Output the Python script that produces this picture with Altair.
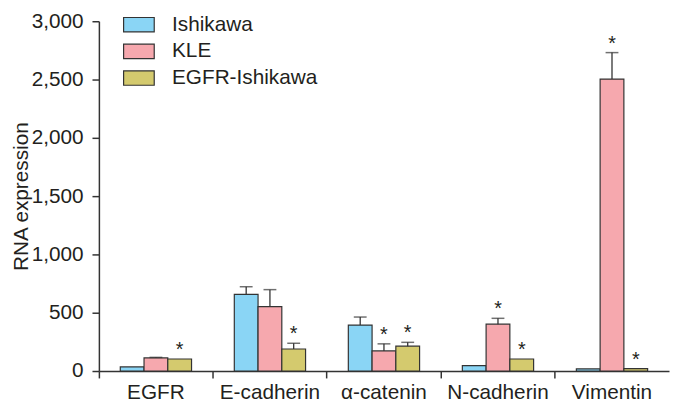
import altair as alt
import pandas as pd

categories = ["EGFR", "E-cadherin", "α-catenin", "N-cadherin", "Vimentin"]
series = ["Ishikawa", "KLE", "EGFR-Ishikawa"]
colors = ["#8AD5F5", "#F6A8AE", "#D4CA6E"]

ishikawa = [35, 657, 394, 46, 18]
ishikawa_sd = [0, 66, 69, 0, 0]
kle = [112, 553, 172, 402, 2504]
kle_sd = [5, 145, 61, 50, 227]
egfr_ish = [103, 189, 213, 103, 20]
egfr_ish_sd = [0, 49, 33, 0, 0]
stars = {
    "Ishikawa": [False, False, False, False, False],
    "KLE": [False, False, True, True, True],
    "EGFR-Ishikawa": [True, True, True, True, True],
}
y_ticks = [0, 500, 1000, 1500, 2000, 2500, 3000]

rows = []
for s, vals, sds in [("Ishikawa", ishikawa, ishikawa_sd), ("KLE", kle, kle_sd),
                     ("EGFR-Ishikawa", egfr_ish, egfr_ish_sd)]:
    for i, c in enumerate(categories):
        rows.append({"gene": c, "line": s, "value": vals[i], "sd": sds[i],
                     "top": vals[i] + sds[i], "star": stars[s][i]})
df = pd.DataFrame(rows)

FONT = "Liberation Sans"
DARK = "#333333"
TXT = "#231F20"
FS = 21

x = alt.X("gene:N", sort=categories, title=None,
          scale=alt.Scale(paddingInner=0, paddingOuter=0),
          axis=alt.Axis(labelAngle=0, bandPosition=0, labelPadding=4))
xo = alt.XOffset("line:N", sort=series, scale=alt.Scale(paddingOuter=0.9, paddingInner=0))

LABEL_EXPR = ("datum.value >= 1000 ? floor(datum.value / 1000) + ',' + "
              "slice('00' + (datum.value % 1000), -3) : '' + datum.value")


def yenc(field):
    return alt.Y(field, type="quantitative", title="RNA expression",
                 scale=alt.Scale(domain=[0, 3000], nice=False),
                 axis=alt.Axis(values=y_ticks, labelExpr=LABEL_EXPR, labelPadding=9,
                               titlePadding=0, grid=False))


base = alt.Chart(df)

bars = base.mark_bar(stroke=DARK, strokeWidth=1.2).encode(
    x=x, xOffset=xo, y=yenc("value"),
    color=alt.Color("line:N", sort=series, title=None,
                    scale=alt.Scale(domain=series, range=colors),
                    legend=alt.Legend(orient="none", legendX=24, legendY=-13, padding=0,
                                      symbolType="M-1,-0.47H1V0.47H-1Z", symbolSize=961,
                                      symbolStrokeColor=DARK, symbolStrokeWidth=1.2,
                                      symbolOpacity=1, labelOffset=17, rowPadding=-2)),
)

errs = base.transform_filter("datum.sd > 0")
err_rule = errs.mark_rule(color=DARK, strokeWidth=1.3).encode(
    x=x, xOffset=xo, y=yenc("value"), y2="top:Q")
err_cap = errs.mark_tick(color=DARK, thickness=1.5, size=13, orient="horizontal").encode(
    x=x, xOffset=xo, y=yenc("top"))

star_txt = base.transform_filter("datum.star").mark_text(
    text="*", fontSize=20, font=FONT, color=TXT, baseline="bottom", dy=1).encode(
    x=x, xOffset=xo, y=yenc("top"))

chart = alt.layer(bars, err_rule, err_cap, star_txt).properties(
    width=577, height=354,
    autosize=alt.AutoSizeParams(type="none"),
    padding={"left": 92, "top": 11, "right": 1, "bottom": 33},
).configure_view(stroke=None).configure_axis(
    labelFontSize=FS, labelFont=FONT, labelColor=TXT, tickSize=7, tickColor=DARK,
    domainColor=DARK, domainWidth=1.5, tickWidth=1.5, titleFontSize=FS, titleFont=FONT,
    titleFontWeight="normal", titleColor=TXT, grid=False,
).configure_legend(
    labelFontSize=FS, labelFont=FONT, labelColor=TXT,
)

chart.save("out.html", embed_options={"renderer": "svg", "actions": False})
